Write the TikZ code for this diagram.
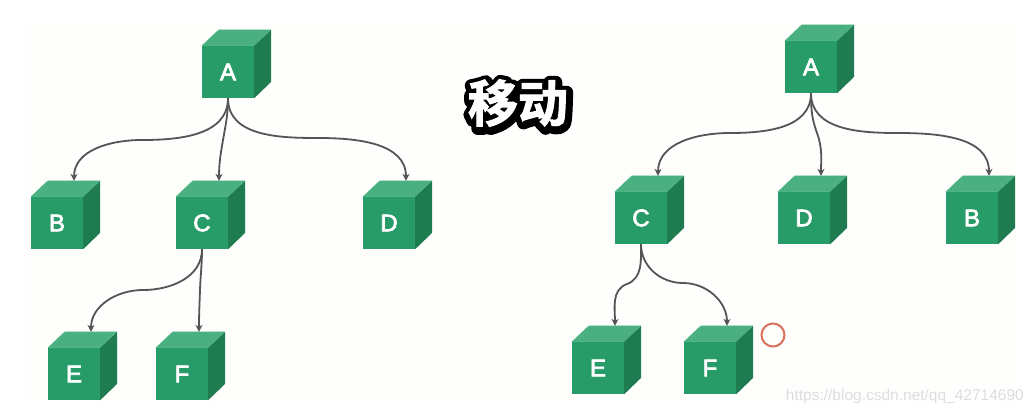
\documentclass[tikz,border=0pt]{standalone}
\usepackage{fontspec}
\setmainfont{Liberation Sans}
\newfontfamily\cjkfont{Noto Sans CJK SC Bold}[FakeBold=2]
\newfontfamily\cjkoutline{Noto Sans CJK SC Bold}[FakeBold=26]
\newfontfamily\cubefont{Liberation Sans}[FakeBold=3]
\usetikzlibrary{positioning,arrows.meta}

\definecolor{cubefront}{HTML}{279C68}
\definecolor{cubeedge}{HTML}{5CBF94}
\definecolor{cubetop}{HTML}{4BB081}
\definecolor{cubeside}{HTML}{1E7C50}
\definecolor{linkgray}{HTML}{555555}
\definecolor{ringred}{HTML}{D9705A}
\definecolor{markgray}{HTML}{DEDEDE}
\definecolor{panel}{HTML}{FEFEFC}

\tikzset{
    cube/.style={fill=cubefront, minimum size=52pt, inner sep=0pt, text=white,
        font=\cubefont\fontsize{24}{24}\selectfont,
        append after command={\pgfextra{
            \fill[cubetop, draw=cubeedge, line width=.4pt, line join=round] (\tikzlastnode.north west) -- ++(17,16) -- ++(52,0)
                -- (\tikzlastnode.north east) -- cycle;
            \fill[cubeside] (\tikzlastnode.north east) -- ++(17,16) -- ++(0,-52)
                -- (\tikzlastnode.south east) -- cycle;
        }}},
    backedge/.style={shift={(17,16)}},
    link/.style={draw=linkgray, line width=1.8pt, -{Stealth[length=7pt,width=7pt]}},
}

\begin{document}
\begin{tikzpicture}[x=1pt, y=1pt, on grid]
    \useasboundingbox (0,0) rectangle (1033,-414);
    \fill [panel] (27,-22) rectangle (1019,-403);

    % left tree
    \node [cube] (A1) at (228,-72) {A};
    \node [cube, below left=151pt and 171pt of A1] (B1) {B};
    \node [cube, below left=151pt and 26pt of A1] (C1) {C};
    \node [cube, below right=151pt and 161pt of A1] (D1) {D};
    \node [cube, below left=151pt and 128pt of C1] (E1) {E};
    \node [cube, below left=151pt and 20pt of C1] (F1) {F};

    \draw [link] (A1.south) to[out=-90,in=0] (142,-140) to[out=180,in=90] ([backedge]B1.north);
    \draw [link] (A1.south) to[out=-90,in=80] (223,-140) to[out=-100,in=90] ([backedge]C1.north);
    \draw [link] (A1.south) to[out=-90,in=180] (318,-138) to[out=0,in=90] ([backedge]D1.north);
    \draw [link] (C1.south) to[out=-90,in=0] (143,-290) to[out=180,in=90] ([backedge]E1.north);
    \draw [link] (C1.south) to[out=-90,in=88] (200,-290) to[out=-92,in=90] ([backedge]F1.north);

    % right tree
    \node [cube] (A2) at (811,-67) {A};
    \node [cube, below left=151pt and 170pt of A2] (C2) {C};
    \node [cube, below left=151pt and 7pt of A2] (D2) {D};
    \node [cube, below right=151pt and 161pt of A2] (B2) {B};
    \node [cube, below left=150pt and 43pt of C2] (E2) {E};
    \node [cube, below right=150pt and 69pt of C2] (F2) {F};

    \draw [link] (A2.south) to[out=-90,in=0] (730,-133) to[out=180,in=90] ([backedge]C2.north);
    \draw [link] (A2.south) to[out=-90,in=110] (817,-133) to[out=-70,in=90] ([backedge]D2.north);
    \draw [link] (A2.south) to[out=-90,in=180] (897,-133) to[out=0,in=90] ([backedge]B2.north);
    \draw [link] (C2.south) to[out=-90,in=20] (627,-284) to[out=200,in=90] ([backedge]E2.north);
    \draw [link] (C2.south) to[out=-90,in=180] (683,-283) to[out=0,in=90] ([backedge]F2.north);

    % ring beside F
    \node [circle, draw=ringred, line width=2pt, minimum size=23pt, inner sep=0pt, right=63pt of F2, yshift=33pt] (ring) {};

    % title, outline first
    \node [font=\cjkoutline\fontsize{50}{50}\selectfont, inner sep=0pt, text=black] (drop) at (519,-105) {\special{pdf:code 1 j 1 J}移动};
    \node [font=\cjkfont\fontsize{50}{50}\selectfont, inner sep=0pt, text=white] (title) at (518,-103) {移动};

    \node [text=markgray, font=\fontsize{15.5}{16}\selectfont, anchor=east, inner sep=0pt] (mark) at (1024,-396) {https://blog.csdn.net/qq\_42714690};
\end{tikzpicture}
\end{document}
